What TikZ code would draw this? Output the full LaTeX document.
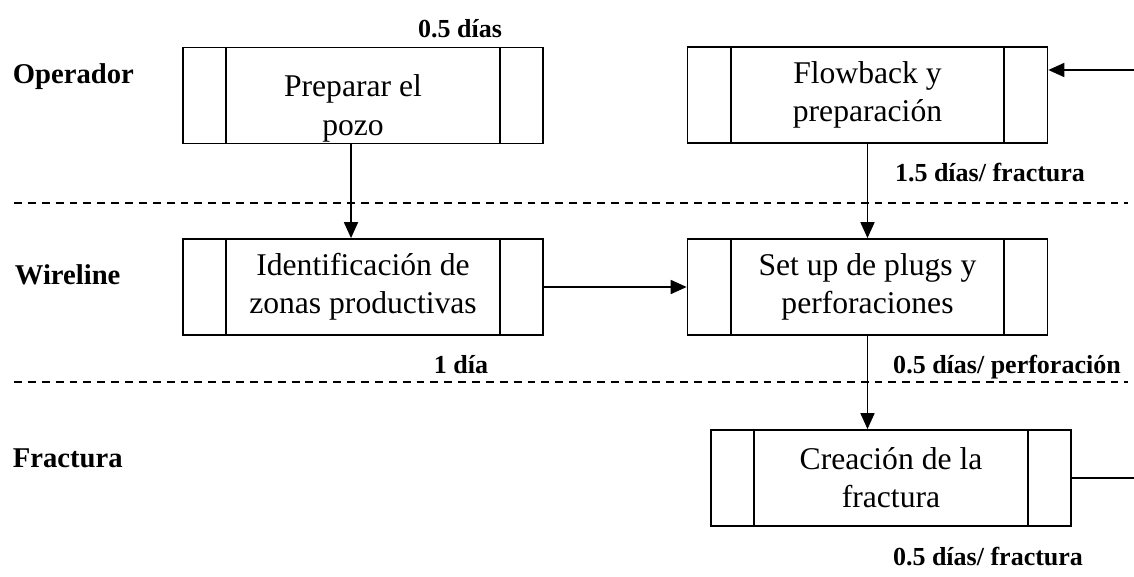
\documentclass[tikz,border=0pt]{standalone}
\usepackage{fontspec}
\setmainfont{Liberation Serif}
\usetikzlibrary{arrows.meta}
\tikzset{
  proc/.style = {draw, rectangle, inner sep=0pt, align=center,
    minimum width=7.2cm, minimum height=1.92cm,
    font=\fontsize{18}{21.8}\selectfont,
    append after command={
      ([xshift=0.88cm]\tikzlastnode.north west) edge ([xshift=0.88cm]\tikzlastnode.south west)
      ([xshift=-0.88cm]\tikzlastnode.north east) edge ([xshift=-0.88cm]\tikzlastnode.south east)}},% proceso predefinido
  lane/.style = {anchor=west, inner sep=0pt,
    font=\fontsize{16.3}{19}\selectfont\bfseries},% nombre del carril
  dur/.style = {inner sep=0pt, font=\fontsize{14.8}{17}\selectfont\bfseries},% duracion
  lanesep/.style = {dash pattern=on 4.5pt off 3.4pt}% separador de carriles
}
\begin{document}
\begin{tikzpicture}[x=0.02cm, y=-0.02cm, line width=1pt,
  >={Triangle[length=0.32cm,width=0.28cm]}]
\useasboundingbox (0,0) rectangle (1134,577);
% carriles
\node [lane] (oper) at (12,77) {Operador};
\node [lane] (wire) at (14,275) {Wireline};
\node [lane] (frac) at (12,458) {Fractura};
\draw [lanesep] (14,203) -- (1128,203);
\draw [lanesep] (14,382) -- (1128,382);
% procesos
\node [proc] (prep) at (363,95.5) {\rule{0pt}{0.95cm}Preparar el\hspace*{0.4cm}\\pozo\hspace*{0.4cm}};
\node [proc] (flow) at (867.5,95) {Flowback y\\preparación};
\node [proc] (ident) at (363,287) {Identificación de\\zonas productivas};
\node [proc] (setup) at (867.5,287) {Set up de plugs y\\perforaciones};
\node [proc] (crea) at (891,478) {Creación de la\\fractura};
% duraciones
\node [dur] (d1) at (460,29) {0.5 días};
\node [dur] (d2) at (990,173) {1.5 días/ fractura};
\node [dur] (d3) at (461,365) {1 día};
\node [dur] (d4) at (1007,367) {0.5 días/ perforación};
\node [dur] (d5) at (988,557) {0.5 días/ fractura};
% flujo
\coordinate (entrada) at (1134,70);
\coordinate (salida) at (1134,478);
\draw [->] ([xshift=-0.24cm]prep.south) -- ([xshift=-0.24cm]ident.north);
\draw [->] (ident.east) -- (setup.west);
\draw [->] (flow.south) -- (setup.north);
\draw [->] (setup.south) -- (setup.south |- crea.north);
\draw (crea.east) -- (salida);
\draw [->] (entrada) -- (entrada -| flow.east);
\end{tikzpicture}
\end{document}
